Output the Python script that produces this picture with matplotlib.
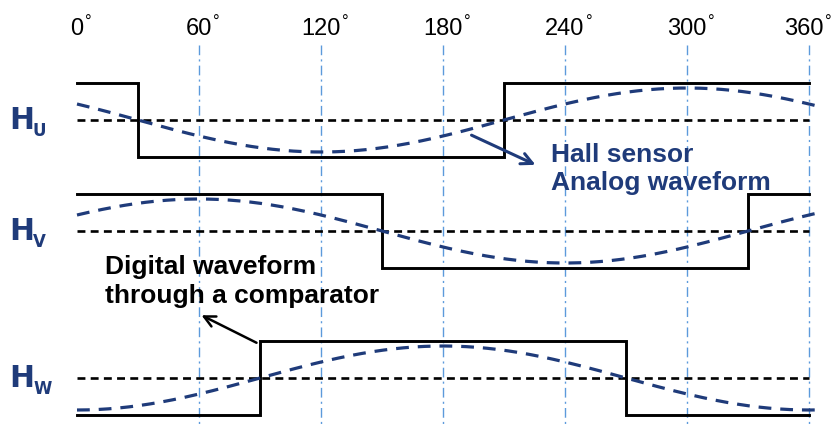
import matplotlib.pyplot as plt
import numpy as np

# electrical angle ticks along the top
degree_ticks = [0, 60, 120, 180, 240, 300, 360]

# hall channels, comparator switching angles and analog phase (sin(theta + shift))
channels = ["U", "V", "W"]
switch_deg = [[30, 210], [150, 330], [90, 270]]
start_high = [True, True, False]
analog_shift = [150, 30, -90]

hall_note = ["Hall sensor", "Analog waveform"]
digital_note = ["Digital waveform", "through a comparator"]

NAVY = "#1f3b7a"
GRID = "#4a8fd8"

# canvas geometry (pixels)
W_PX = 833
X0, X360 = 77, 809
PX_PER_DEG = (X360 - X0) / 360
row_center = [120, 231, 378]
half_height = 37
amp = 32


def deg(xp):
    return (xp - X0) / PX_PER_DEG


fig = plt.figure(figsize=(8.33, 4.25), dpi=100)
ax = fig.add_axes([0, 0, 1, 1])
ax.set_xlim(deg(0), deg(W_PX))
ax.set_ylim(425, 0)
ax.axis("off")

# angle grid
for d in degree_ticks:
    label = str(d)
    half_w = 6.6 * len(label)
    cx = X0 + d * PX_PER_DEG
    # keep numeral + ring inside the canvas
    cx = min(cx, W_PX - 9 - half_w)
    ax.text(deg(cx), 35, label, ha="center", va="baseline", fontsize=17,
            family="Liberation Sans", color="black")
    ax.text(deg(cx + half_w + 1), 27, "°", ha="left", va="baseline",
            fontsize=12, family="Liberation Sans", color="black")
    if d > 0:
        ax.plot([d, d], [45, 425], color=GRID, lw=1.0, alpha=0.9,
                linestyle=(0, (7, 3, 1.5, 3)), zorder=1)

theta = np.linspace(0, 366, 500)
for name, sw, high, shift, c in zip(channels, switch_deg, start_high,
                                    analog_shift, row_center):
    # comparator midline
    ax.plot([0, 360], [c, c], color="black", lw=1.9,
            linestyle=(0, (3, 2)), zorder=2)

    # digital square wave
    lv = [c - half_height, c + half_height]
    first = lv[0] if high else lv[1]
    second = lv[1] if high else lv[0]
    xs = [0, sw[0], sw[0], sw[1], sw[1], 360]
    ys = [first, first, second, second, first, first]
    ax.plot(xs, ys, color="black", lw=2.1, zorder=3,
            solid_joinstyle="miter")

    # analog hall signal
    y = c - amp * np.sin(np.radians(theta + shift))
    ax.plot(theta, y, color=NAVY, lw=2.3, linestyle=(0, (4.0, 2.8)), zorder=4)

    # channel label
    ax.text(deg(9), c + 9, "H", fontsize=21.5, fontweight="bold",
            family="DejaVu Sans", color=NAVY, va="baseline", ha="left")
    ax.text(deg(33), c + 16, name, fontsize=12, fontweight="bold",
            family="DejaVu Sans", color=NAVY, va="baseline", ha="left")

# callouts
ax.annotate("", xy=(deg(538), 166), xytext=(deg(469), 134),
            arrowprops=dict(arrowstyle="->,head_length=0.8,head_width=0.4",
                            color=NAVY, lw=2.2))
for i, line in enumerate(hall_note):
    ax.text(deg(551), 162 + 28 * i, line, fontsize=19, fontweight="bold",
            family="Liberation Sans", color=NAVY, va="baseline", ha="left")

ax.annotate("", xy=(deg(199), 314), xytext=(deg(259), 344),
            arrowprops=dict(arrowstyle="->,head_length=0.8,head_width=0.4",
                            color="black", lw=1.8))
for i, line in enumerate(digital_note):
    ax.text(deg(105), 274 + 29 * i, line, fontsize=19, fontweight="bold",
            family="Liberation Sans", color="black", va="baseline", ha="left")

fig.savefig("out.png", dpi=100)
